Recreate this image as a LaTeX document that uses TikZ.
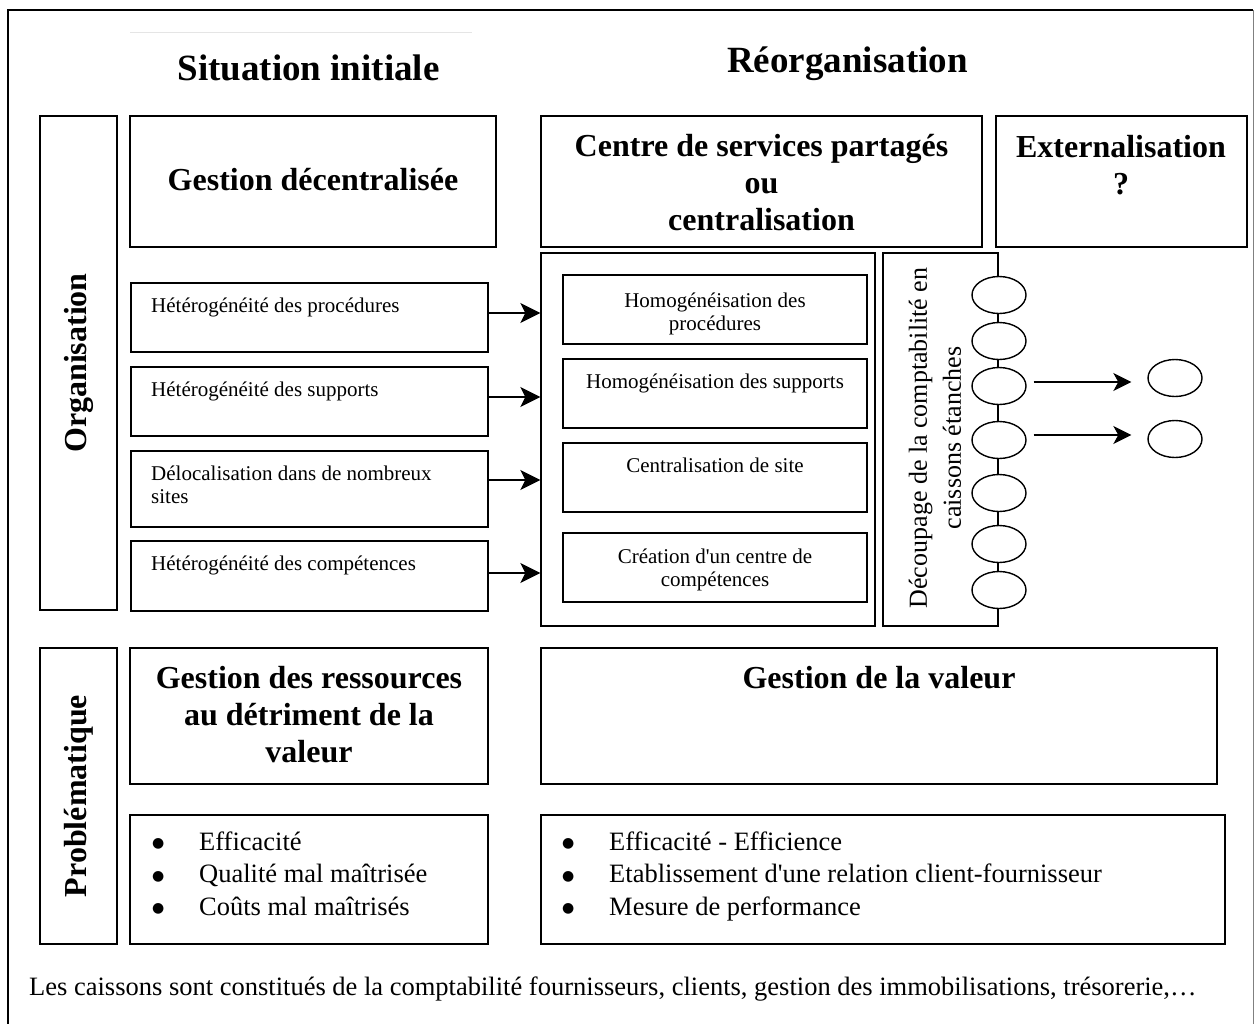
\documentclass[tikz,border=0pt]{standalone}
\usepackage{fontspec}
\setmainfont{Liberation Serif}
\newfontfamily\qfont{Liberation Serif}
\newfontfamily\symfont{DejaVu Sans}
\usetikzlibrary{arrows.meta,fit,shapes.geometric}
\newcommand\fsz[2]{\fontsize{#1}{#2}\selectfont}
\newcommand\itembul{\makebox[47pt][l]{\raisebox{2.5pt}{\symfont\fontsize{14}{14}\selectfont ●}}}
\newcommand\apos{{\qfont '}}
\begin{document}
\begin{tikzpicture}[x=1pt,y=-1pt,
  box/.style={draw, line width=1.4pt, inner sep=0pt},
  ell/.style={draw, ellipse, line width=1.4pt, fill=white, minimum width=54pt, minimum height=37pt, inner sep=0pt},
  arr/.style={line width=1.4pt, -{Stealth[length=20pt,width=20pt,inset=5pt]}},
  arrs/.style={line width=1.4pt, -{Stealth[length=18pt,width=18pt,inset=5pt]}},
  ttl/.style={font=\fsz{37}{42}\bfseries, inner sep=0pt},
  hdr/.style={font=\fsz{32}{37}\bfseries, inner sep=0pt, align=center},
  vlbl/.style={font=\fsz{32}{37}\bfseries, inner sep=0pt, rotate=90},
  sml/.style={font=\fsz{21}{23}, inner sep=0pt},
  mid/.style={font=\fsz{26.5}{32.5}, inner sep=0pt},
]
\useasboundingbox (0,0) rectangle (1255,1023);
% outer frame
\draw[line width=1.8pt] (8,1030) -- (8,10) -- (1253,10);
\draw[gray, line width=1pt] (1253,10) -- (1253,1030);
\draw[black!10, line width=1pt] (130,32) -- (472,32);

% titles
\node[ttl, anchor=base] (t1) at (308.5,80) {Situation initiale};
\node[ttl, anchor=base] (t2) at (847.5,72) {Réorganisation};

% row 1
\node[box, fit={(40,116) (117,610)}] (org) {};
\node[vlbl] (orgt) at (org.center) {Organisation};
\node[box, fit={(130,116) (496,247)}] (gd) {};
\node[hdr, anchor=base] (gdt) at (313,190) {Gestion décentralisée};
\node[box, fit={(541,116) (982,247)}] (csp) {};
\node[hdr, anchor=north] (cspt) at (761.5,130.1) {\strut Centre de services partagés\\ou\\centralisation};
\node[box, fit={(996,116) (1247,247)}] (ext) {};
\node[hdr, anchor=north] (extt) at (1121,131.1) {\strut Externalisation\\?};

% left small boxes
\node[box, fit={(131,283) (488,352)}] (h1) {};
\node[sml, anchor=base west] (h1t) at (151,312) {Hétérogénéité des procédures};
\node[box, fit={(131,367) (488,436)}] (h2) {};
\node[sml, anchor=base west] (h2t) at (151,396) {Hétérogénéité des supports};
\node[box, fit={(131,451) (488,527)}] (h3) {};
\node[sml, anchor=north west, align=left] (h3t) at (151,463.9) {\strut Délocalisation dans de nombreux\\sites};
\node[box, fit={(131,541) (488,611)}] (h4) {};
\node[sml, anchor=base west] (h4t) at (151,570) {Hétérogénéité des compétences};

% center group
\node[box, fit={(541,253) (875,626)}] (cbig) {};
\node[box, fit={(563,275) (867,344)}] (c1) {};
\node[sml, anchor=north, align=center] (c1t) at (715,290.9) {\strut Homogénéisation des\\procédures};
\node[box, fit={(563,359) (867,428)}] (c2) {};
\node[sml, anchor=base] (c2t) at (715,388) {Homogénéisation des supports};
\node[box, fit={(563,443) (867,512)}] (c3) {};
\node[sml, anchor=base] (c3t) at (715,472) {Centralisation de site};
\node[box, fit={(563,533) (867,602)}] (c4) {};
\node[sml, anchor=north, align=center] (c4t) at (715,546.9) {\strut Création d\apos un centre de\\compétences};

% arrows left -> center
\coordinate (a1) at ([yshift=4.5pt]h1.east);
\coordinate (a2) at ([yshift=4.5pt]h2.east);
\coordinate (a3) at ([yshift=9pt]h3.east);
\coordinate (a4) at ([yshift=3pt]h4.east);
\draw[arr] (a1) -- (a1 -| cbig.west);
\draw[arr] (a2) -- (a2 -| cbig.west);
\draw[arr] (a3) -- (a3 -| cbig.west);
\draw[arr] (a4) -- (a4 -| cbig.west);

% decoupage
\node[box, fit={(883,253) (998,626)}] (dec) {};
\node[font=\fsz{26}{34}, rotate=90, align=center, inner sep=0pt] (dect) at (935,438) {Découpage de la comptabilité en\\caissons étanches};
\node[ell] (e1) at (999,295) {};
\node[ell] (e2) at (999,341) {};
\node[ell] (e3) at (999,386) {};
\node[ell] (e4) at (999,440) {};
\node[ell] (e5) at (999,493) {};
\node[ell] (e6) at (999,544) {};
\node[ell] (e7) at (999,590) {};
\node[ell] (r1) at (1175,378) {};
\node[ell] (r2) at (1175,439) {};
\coordinate (b1) at ([xshift=7pt,yshift=4pt]e3.east);
\coordinate (b2) at ([xshift=7pt,yshift=5pt]e4.east);
\draw[arrs, shorten >=16pt] (b1) -- (b1 -| r1.west);
\draw[arrs, shorten >=16pt] (b2) -- (b2 -| r2.west);

% row 2
\node[box, fit={(40,648) (117,944)}] (prob) {};
\node[vlbl] (probt) at (prob.center) {Problématique};
\node[box, fit={(130,648) (488,784)}] (gr) {};
\node[hdr, anchor=north] (grt) at (309,662.1) {\strut Gestion des ressources\\au détriment de la\\valeur};
\node[box, fit={(541,648) (1217,784)}] (gv) {};
\node[hdr, anchor=base] (gvt) at (879,688) {Gestion de la valeur};
\node[box, fit={(130,815) (488,944)}] (bl) {};
\node[mid, anchor=north west, align=left] (blt) at (152,827.25) {\strut\itembul Efficacité\\\itembul Qualité mal maîtrisée\\\itembul Coûts mal maîtrisés};
\node[box, fit={(541,815) (1225,944)}] (br) {};
\node[mid, anchor=north west, align=left] (brt) at (562,827.25) {\strut\itembul Efficacité - Efficience\\\itembul Etablissement d\apos une relation client-fournisseur\\\itembul Mesure de performance};

% footer
\node[mid, anchor=base west] (foot) at (29,995) {Les caissons sont constitués de la comptabilité fournisseurs, clients, gestion des immobilisations, trésorerie,…};
\end{tikzpicture}
\end{document}
